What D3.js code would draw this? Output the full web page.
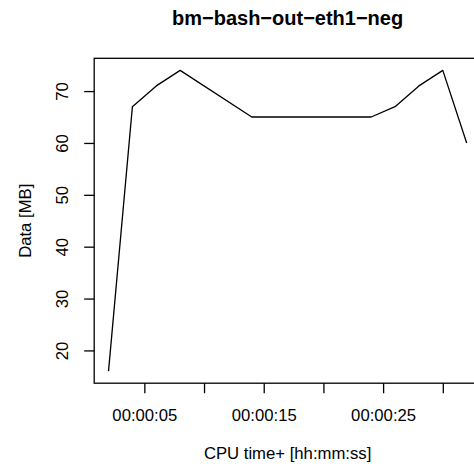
<!DOCTYPE html>
<html>
<head>
<meta charset="utf-8">
<script src="https://cdn.jsdelivr.net/npm/d3@7"></script>
<style>
  html, body { margin: 0; padding: 0; background: #fff; }
  svg { display: block; font-family: "Liberation Sans", Arial, Helvetica, sans-serif; }
</style>
</head>
<body>
<svg id="chart" width="474" height="471"></svg>
<script>
// CPU time (seconds) and transferred data (MB)
const seconds = [2, 4, 6, 8, 14, 24, 26, 28, 30, 32];
const dataMB  = [16, 67, 71, 74, 65, 65, 67, 71, 74, 60];

// axis ticks
const xTicks = [5, 10, 15, 20, 25, 30];
const xTickLabels = ["00:00:05", "", "00:00:15", "", "00:00:25", ""];
const yTicks = [20, 30, 40, 50, 60, 70];

const title = "bm\u2212bash\u2212out\u2212eth1\u2212neg";
const xTitle = "CPU time+ [hh:mm:ss]";
const yTitle = "Data [MB]";

const svg = d3.select("#chart");
const plot = { left: 94.2, right: 481, top: 58.3, bottom: 383.2 };

// R-style 4% range extension
function extend(ext) {
  const d = (ext[1] - ext[0]) * 0.04;
  return [ext[0] - d, ext[1] + d];
}

const x = d3.scaleLinear().domain(extend(d3.extent(seconds))).range([plot.left, plot.right]);
const y = d3.scaleLinear().domain(extend(d3.extent(dataMB))).range([plot.bottom, plot.top]);

const ink = "#000";
const sw = 1.3;
const fs = 16.7;

// frame
svg.append("rect")
  .attr("x", plot.left).attr("y", plot.top)
  .attr("width", plot.right - plot.left).attr("height", plot.bottom - plot.top)
  .attr("fill", "none").attr("stroke", ink).attr("stroke-width", sw);

// series line
const pts = seconds.map((s, i) => [s, dataMB[i]]);
svg.append("path")
  .datum(pts)
  .attr("fill", "none").attr("stroke", ink).attr("stroke-width", sw)
  .attr("stroke-linejoin", "round")
  .attr("d", d3.line().x(d => x(d[0])).y(d => y(d[1])));

// x axis
const xAxis = d3.axisBottom(x)
  .tickValues(xTicks)
  .tickSize(10)
  .tickPadding(12)
  .tickFormat((d, i) => xTickLabels[i]);
const gx = svg.append("g").attr("transform", `translate(0,${plot.bottom})`).call(xAxis);
gx.select(".domain").remove();
gx.selectAll(".tick line").attr("stroke", ink).attr("stroke-width", sw);
gx.selectAll(".tick text")
  .attr("fill", ink).attr("font-size", fs).attr("font-family", null)
  .attr("dy", null).attr("y", 38);

// y axis
const yAxis = d3.axisLeft(y).tickValues(yTicks).tickSize(10).tickFormat(d3.format("d"));
const gy = svg.append("g").attr("transform", `translate(${plot.left},0)`).call(yAxis);
gy.select(".domain").remove();
gy.selectAll(".tick line").attr("stroke", ink).attr("stroke-width", sw);
gy.selectAll(".tick text")
  .attr("fill", ink).attr("font-size", fs).attr("font-family", null)
  .attr("x", null).attr("dy", null)
  .attr("text-anchor", "middle")
  .attr("transform", "translate(-26,0) rotate(-90)");

// titles
const cx = (plot.left + plot.right) / 2;
const cy = (plot.top + plot.bottom) / 2;
svg.append("text")
  .attr("x", cx).attr("y", 25)
  .attr("text-anchor", "middle")
  .attr("font-size", 20).attr("font-weight", "bold")
  .attr("fill", ink).text(title);
svg.append("text")
  .attr("x", cx).attr("y", 459)
  .attr("text-anchor", "middle")
  .attr("font-size", fs).attr("fill", ink).text(xTitle);
svg.append("text")
  .attr("transform", `translate(31,${cy}) rotate(-90)`)
  .attr("text-anchor", "middle")
  .attr("font-size", fs).attr("fill", ink).text(yTitle);
</script>
</body>
</html>
